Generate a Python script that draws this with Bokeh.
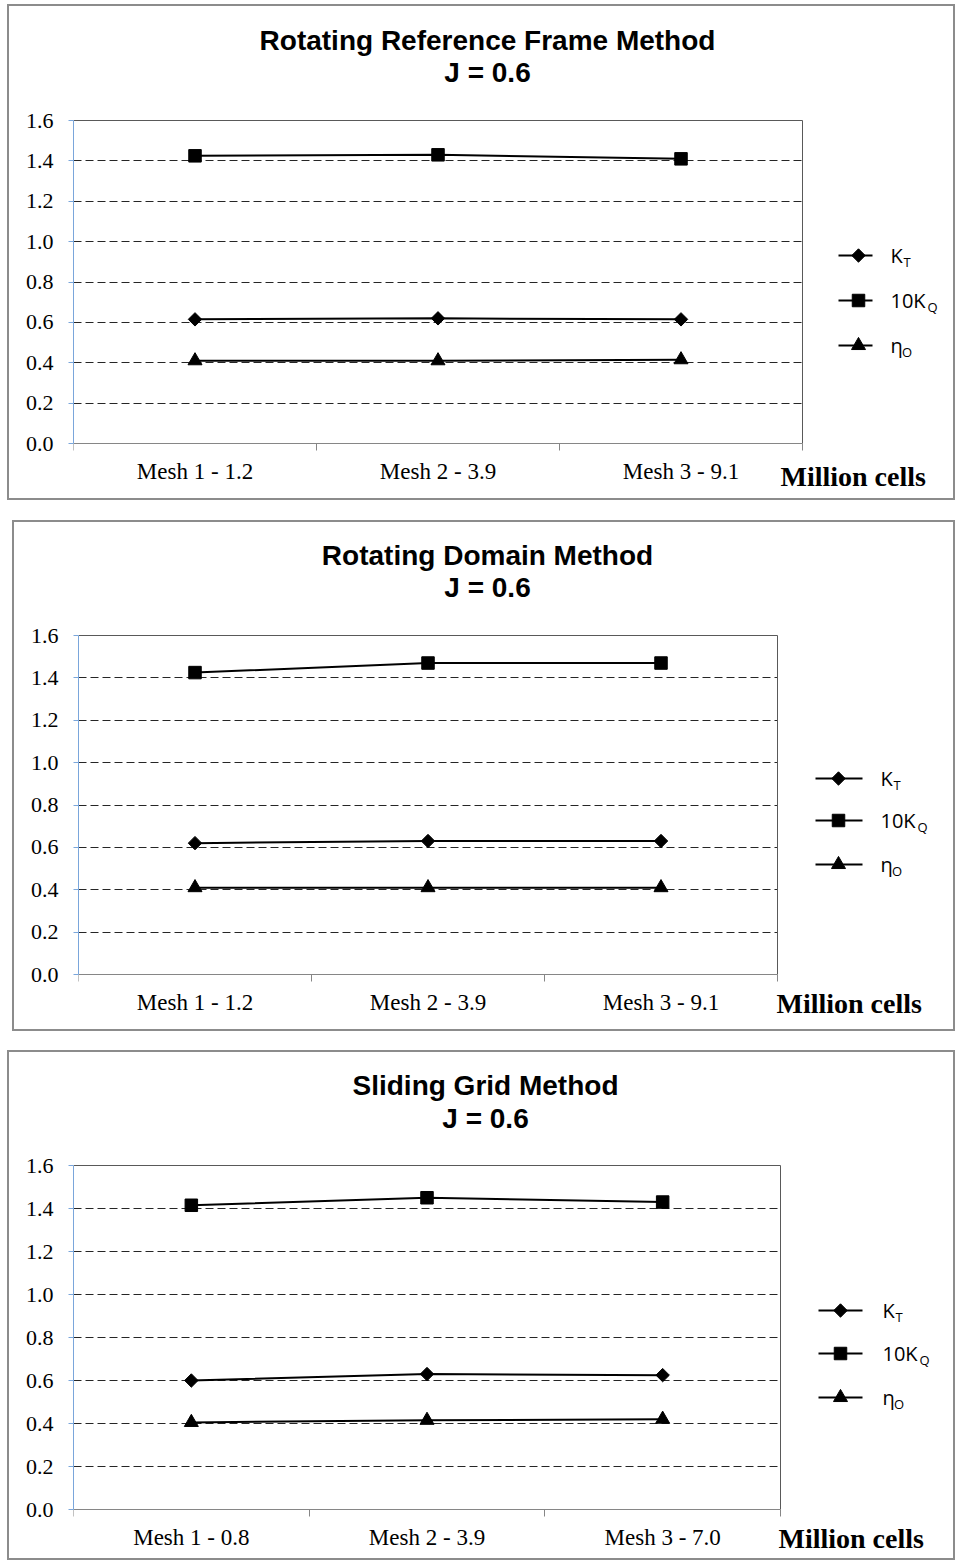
from bokeh.plotting import figure
from bokeh.models import Range1d, FixedTicker, PrintfTickFormatter
from bokeh.layouts import column
from bokeh.embed import file_html
from bokeh.resources import INLINE
from bokeh.core.properties import value

# ---------------- data ----------------
titles = ["Rotating Reference Frame Method", "Rotating Domain Method", "Sliding Grid Method"]
subtitle = "J = 0.6"
cats_rrf = ["Mesh 1 - 1.2", "Mesh 2 - 3.9", "Mesh 3 - 9.1"]
cats_rdm = ["Mesh 1 - 1.2", "Mesh 2 - 3.9", "Mesh 3 - 9.1"]
cats_sgm = ["Mesh 1 - 0.8", "Mesh 2 - 3.9", "Mesh 3 - 7.0"]

kt_rrf = [0.615, 0.620, 0.615]
kq10_rrf = [1.425, 1.430, 1.410]
eta_rrf = [0.410, 0.410, 0.415]

kt_rdm = [0.620, 0.630, 0.630]
kq10_rdm = [1.425, 1.470, 1.470]
eta_rdm = [0.410, 0.410, 0.410]

kt_sgm = [0.600, 0.630, 0.625]
kq10_sgm = [1.415, 1.450, 1.430]
eta_sgm = [0.405, 0.415, 0.420]

y_ticks = [0.0, 0.2, 0.4, 0.6, 0.8, 1.0, 1.2, 1.4, 1.6]
grid_ticks = [0.2, 0.4, 0.6, 0.8, 1.0, 1.2, 1.4]
x_unit = "Million cells"
legend_main = ["K", "10K", "\u03b7"]
legend_sub = ["T", "Q", "O"]
legend_markers = ["diamond", "square", "triangle"]

# ---------------- layout (page pixel geometry) ----------------
geoms = [
    dict(box=(7, 4, 948, 496), fl=73, ft=120, fb=443, x3=802,
         leg=(838, 872, 858, 890), rows=(255, 300, 345),
         unit=(780, 476), tcx=487, ty=(40, 72)),
    dict(box=(12, 520, 943, 511), fl=78, ft=635, fb=974, x3=777,
         leg=(815, 862, 838, 880), rows=(778, 820, 864),
         unit=(776, 1003), tcx=487, ty=(555, 587)),
    dict(box=(7, 1050, 948, 510), fl=73, ft=1165, fb=1509, x3=780,
         leg=(818, 862, 840, 882), rows=(1310, 1353, 1397),
         unit=(778, 1538), tcx=485, ty=(1085, 1118)),
]

SERIF = "Liberation Serif"
SANS = "Liberation Sans"
LEGF = "Open Sans"
BORDER = 2
prev_bottom = 0


def add_marker(p, x, y, mk):
    if mk == "diamond":
        p.scatter(x, y, marker="square", angle=0.785398, size=9.5, color="black")
    elif mk == "square":
        p.scatter(x, y, marker="square", size=12.5, color="black")
    else:
        p.scatter(x, y, marker="triangle", size=14, color="black")


def make_panel(title, cats, kt, kq, eta, g):
    global prev_bottom
    bx, by, bw, bh = g["box"]
    cw, ch = bw, bh               # canvas size (drawn from inside the border)
    ox, oy = bx + BORDER, by + BORDER
    mbl = g["fl"] - ox
    mbr = 8
    fw = cw - mbl - mbr
    fh = g["fb"] - g["ft"]
    n = len(cats)
    xscale = (g["x3"] - g["fl"]) / n
    x_end = fw / xscale
    ymax = y_ticks[-1]

    def px(x):
        return (x - g["fl"]) / xscale

    def py(y):
        return (g["fb"] - y) / fh * ymax

    p = figure(width=bw, height=bh, output_backend="svg", toolbar_location=None,
               x_range=Range1d(0, x_end), y_range=Range1d(py(oy + ch), py(oy)),
               min_border_left=mbl, min_border_right=mbr, min_border_top=0,
               min_border_bottom=0, outline_line_color=None,
               background_fill_color="white", border_fill_color="white")
    p.margin = (by - prev_bottom, 0, 0, bx)
    prev_bottom = by + bh
    p.styles = {"border": "%dpx solid #8c8c8c" % BORDER}

    # titles
    fs = 28
    p.text([px(g["tcx"])], [py(g["ty"][0])], text=[title], text_font=value(SANS),
           text_font_size="%dpx" % fs, text_font_style="bold", text_align="center",
           text_baseline="middle", text_color="black")
    p.text([px(g["tcx"])], [py(g["ty"][1])], text=[subtitle], text_font=value(SANS),
           text_font_size="%dpx" % fs, text_font_style="bold", text_align="center",
           text_baseline="middle", text_color="black")

    # x axis (categorical-like), fixed at y = 0
    xs = [i + 0.5 for i in range(n)]
    xa = p.xaxis[0]
    xa.fixed_location = y_ticks[0]
    xa.ticker = FixedTicker(ticks=xs, minor_ticks=list(range(n + 1)))
    xa.major_label_overrides = {x: c for x, c in zip(xs, cats)}
    xa.bounds = (0, n)
    xa.axis_line_color = "#868686"
    xa.major_tick_line_color = None
    xa.major_tick_out = 0
    xa.major_tick_in = 0
    xa.minor_tick_line_color = "#868686"
    xa.minor_tick_out = 7
    xa.minor_tick_in = 0
    xa.major_label_text_font = SERIF
    xa.major_label_text_font_size = "23px"
    xa.major_label_text_color = "black"
    xa.major_label_standoff = 8

    # y axis
    ya = p.yaxis[0]
    ya.ticker = FixedTicker(ticks=y_ticks, minor_ticks=[])
    ya.bounds = (y_ticks[0], ymax)
    ya.formatter = PrintfTickFormatter(format="%.1f")
    ya.axis_line_color = "#7aa6db"
    ya.major_tick_line_color = "#7aa6db"
    ya.major_tick_out = 5
    ya.major_tick_in = 0
    ya.minor_tick_line_color = None
    ya.major_label_text_font = SERIF
    ya.major_label_text_font_size = "22px"
    ya.major_label_text_color = "black"
    ya.major_label_standoff = 15

    # grid
    p.xgrid.visible = False
    yg = p.ygrid[0]
    yg.ticker = FixedTicker(ticks=grid_ticks, minor_ticks=[])
    yg.grid_line_color = "#262626"
    yg.grid_line_dash = "8 4"
    yg.grid_line_width = 1
    try:
        yg.cross_bounds = (0, n)
    except Exception:
        pass

    # plot-area border (top and right)
    p.segment(x0=[0, n], y0=[ymax, 0], x1=[n, n], y1=[ymax, ymax],
              line_color="#595959", line_width=1)

    # series
    for vals, mk in [(kt, "diamond"), (kq, "square"), (eta, "triangle")]:
        p.line(xs, vals, line_color="black", line_width=2)
        add_marker(p, xs, vals, mk)

    # legend (drawn)
    lx0, lx1, lxm, ltx = g["leg"]
    for i, (mk, main, sub) in enumerate(zip(legend_markers, legend_main, legend_sub)):
        yy = py(g["rows"][i])
        p.segment(x0=[px(lx0)], y0=[yy], x1=[px(lx1)], y1=[yy],
                  line_color="black", line_width=2)
        add_marker(p, [px(lxm)], [yy], mk)
        p.text([px(ltx)], [yy], text=[main], text_font=value(LEGF),
               text_font_size="20px", text_baseline="middle", text_color="black")
        mw = {"K": 13, "10K": 37, "\u03b7": 11.5}[main]
        p.text([px(ltx)], [yy], text=[sub], text_font=value(LEGF),
               text_font_size="13px", text_baseline="middle", text_color="black",
               x_offset=mw, y_offset=6)

    # unit label
    ux, uy = g["unit"]
    p.text([px(ux)], [py(uy)], text=[x_unit], text_font=value(SERIF),
           text_font_size="28px", text_font_style="bold",
           text_baseline="middle", text_color="black")
    return p


panels = [
    make_panel(titles[0], cats_rrf, kt_rrf, kq10_rrf, eta_rrf, geoms[0]),
    make_panel(titles[1], cats_rdm, kt_rdm, kq10_rdm, eta_rdm, geoms[1]),
    make_panel(titles[2], cats_sgm, kt_sgm, kq10_sgm, eta_sgm, geoms[2]),
]

layout = column(*panels, spacing=0)
open("out.html", "w").write(file_html(layout, INLINE))
